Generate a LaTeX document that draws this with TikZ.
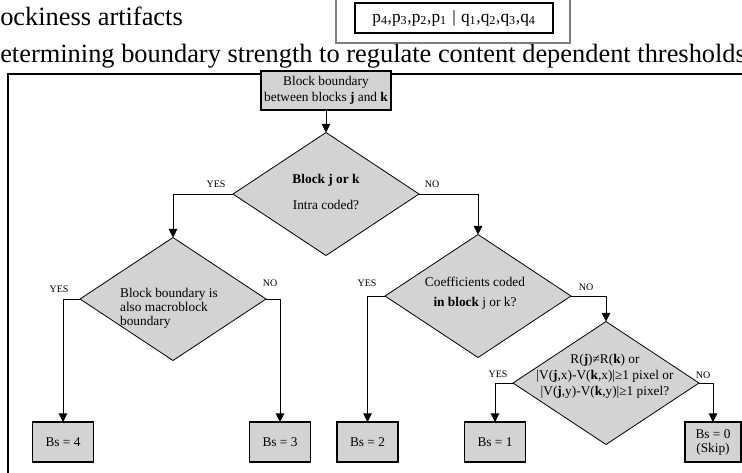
\documentclass[tikz,border=0pt]{standalone}
\usepackage{fontspec}
\setmainfont{Liberation Serif}
\usetikzlibrary{shapes.geometric,arrows.meta}
\definecolor{boxgray}{RGB}{211,211,211}
\definecolor{framegray}{RGB}{125,125,125}

\begin{document}
\begin{tikzpicture}[x=0.75pt, y=-0.75pt,
   flow/.style={line width=0.7pt, -{Triangle[width=6.5pt,length=6.5pt]}},
   resbox/.style={draw, line width=0.9pt, fill=boxgray, inner sep=0pt, outer sep=0pt, minimum width=61*0.75pt, minimum height=40*0.75pt, align=center, font=\fontsize{10}{10.5}\selectfont},
   decide/.style={diamond, draw, line width=0.6pt, fill=boxgray, inner sep=0pt, outer sep=0pt, minimum width=186*0.75pt, minimum height=123*0.75pt},
   dtext/.style={align=center, inner sep=0pt, font=\fontsize{10}{12}\selectfont},
   yesno/.style={inner sep=0pt, font=\fontsize{7.5}{9}\selectfont}]

  \useasboundingbox (0,0) rectangle (742,472);

  %page text
 \node[anchor=base west, inner sep=0pt, font=\fontsize{19.8}{24}\selectfont] (hd1) at (0,25) {ockiness artifacts};
 \node[anchor=base west, inner sep=0pt, font=\fontsize{19.8}{24}\selectfont] (hd2) at (0,62) {etermining boundary strength to regulate content dependent thresholds};

  %sample row
 \draw[framegray, line width=0.8pt] (336,-5) |- (570,43) -- (570,-5);
 \node[draw, line width=0.8pt, minimum width=198*0.75pt, minimum height=30*0.75pt, inner sep=0pt, font=\fontsize{13}{15}\selectfont] (pq) at (454,18)
      {p\textsubscript{4},p\textsubscript{3},p\textsubscript{2},p\textsubscript{1}\hspace{4pt}|\hspace{4pt}q\textsubscript{1},q\textsubscript{2},q\textsubscript{3},q\textsubscript{4}};

  %frame
 \draw[line width=0.8pt] (8,480) -- (8,74) -- (750,74);

  %start
 \node[resbox, minimum width=130*0.75pt, minimum height=39*0.75pt, font=\fontsize{10}{12.4}\selectfont] (start) at (326,90.5) {Block boundary\\between blocks \textbf{j} and \textbf{k}};

  %decisions
    \foreach \x/\y/\name in {326/194/d1, 173/299/d2, 478/296/d3, 606/383/d4}{
         \node[decide] (\name) at (\x,\y) {};
    }
 \node[dtext] (d1t) at (326,192) {\textbf{Block j or k}\\[7.5pt]Intra coded?};
 \node[dtext, align=left, font=\fontsize{10}{10.5}\selectfont] (d2t) at (169,308) {Block boundary is\\also macroblock\\boundary};
 \node[dtext] (d3t) at (475,293) {Coefficients coded\\[3pt]\textbf{in block} j or k?};
 \node[dtext] (d4t) at (605,376) {R(\textbf{j})≠R(\textbf{k}) or\\|V(\textbf{j},x)-V(\textbf{k},x)|≥1 pixel or\\|V(\textbf{j},y)-V(\textbf{k},y)|≥1 pixel?};

  %results
    \foreach \x/\num/\name in {63/4/b4, 280/3/b3, 367.5/2/b2, 495/1/b1}{
         \node[resbox] (\name) at (\x,442) {Bs = \num};
    }
 \node[resbox, minimum width=56*0.75pt] (b0) at (713,442) {Bs = 0\\(Skip)};

  %arrows
 \draw[flow] (start) -- (d1);
 \draw[flow] (d1.west) -| (d2.north);
 \draw[flow] (d1.east) -| (d3.north);
 \draw[flow] (d2.west) -| (b4.north);
 \draw[flow] (d2.east) -| (b3.north);
 \draw[flow] (d3.west) -| (b2.north);
 \draw[flow] (d3.east) -| (d4.north);
 \draw[flow] (d4.west) -| (b1.north);
 \draw[flow] (d4.east) -| (b0.north);

  %yes no
    \foreach \x/\y/\txt/\name in {216/184/YES/y1, 432/184/NO/n1, 59/289/YES/y2, 270/283/NO/n2, 367/283/YES/y3, 586/287/NO/n3, 498/374/YES/y4, 703/375/NO/n4}{
         \node[yesno] (\name) at (\x,\y) {\txt};
    }

\end{tikzpicture}
\end{document}
